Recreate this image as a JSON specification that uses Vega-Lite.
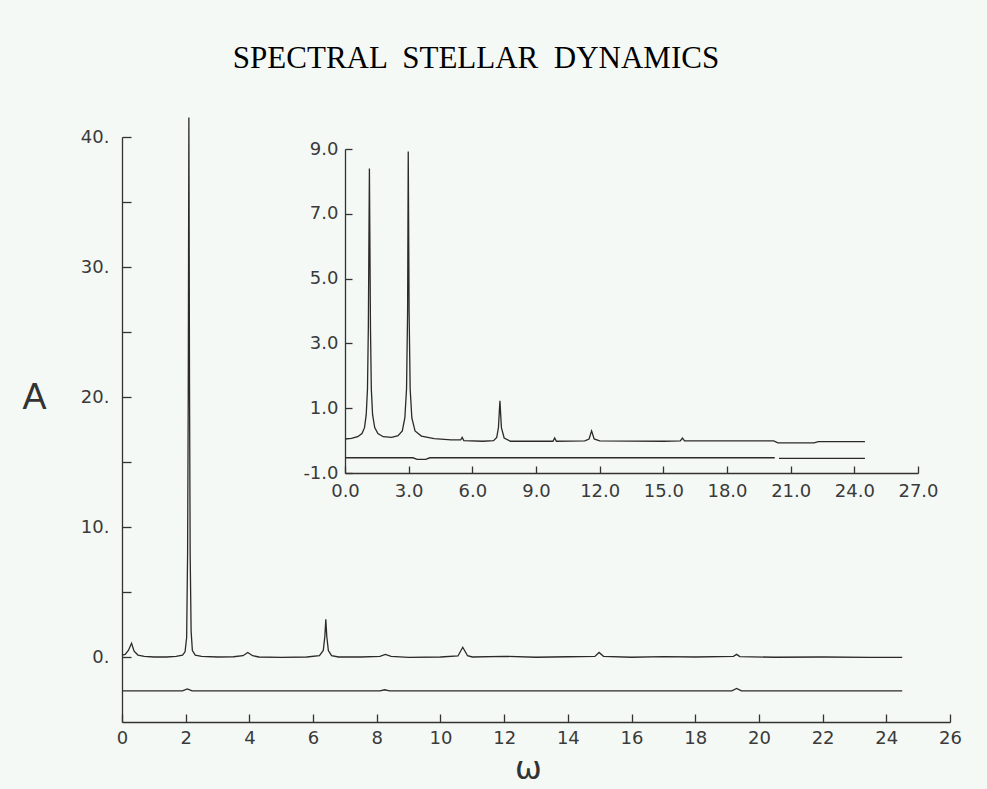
{
  "$schema": "https://vega.github.io/schema/vega-lite/v6.json",
  "autosize": {"type": "none"},
  "padding": {"left": 122, "top": 137, "right": 37, "bottom": 67},
  "width": 828,
  "height": 585,
  "background": "#f5f9f6",
  "title": {
    "text": "SPECTRAL \u00a0STELLAR \u00a0DYNAMICS",
    "font": "Liberation Serif",
    "fontSize": 31,
    "fontWeight": "normal",
    "color": "#000000",
    "anchor": "middle",
    "dx": -60,
    "offset": 40
  },
  "config": {
    "view": {"stroke": null},
    "axis": {
      "grid": false,
      "labelFont": "DejaVu Sans",
      "labelFontSize": 18,
      "labelColor": "#3a3a3a",
      "domainColor": "#333333",
      "tickColor": "#333333",
      "domainWidth": 1.3,
      "tickWidth": 1.3,
      "labelFlush": false,
      "labelOverlap": false
    }
  },
  "resolve": {
    "scale": {"x": "independent", "y": "independent"},
    "axis": {"x": "independent", "y": "independent"}
  },
  "layer": [
    {
      "data": {
        "values": [
          {"trace": "spectrum", "w": 0.0, "A": 0.15},
          {"trace": "spectrum", "w": 0.1, "A": 0.2},
          {"trace": "spectrum", "w": 0.2, "A": 0.5},
          {"trace": "spectrum", "w": 0.3, "A": 1.05},
          {"trace": "spectrum", "w": 0.38, "A": 0.45},
          {"trace": "spectrum", "w": 0.5, "A": 0.15},
          {"trace": "spectrum", "w": 0.7, "A": 0.05},
          {"trace": "spectrum", "w": 1.0, "A": 0.0},
          {"trace": "spectrum", "w": 1.4, "A": 0.0},
          {"trace": "spectrum", "w": 1.7, "A": 0.05},
          {"trace": "spectrum", "w": 1.9, "A": 0.15},
          {"trace": "spectrum", "w": 1.98, "A": 0.4},
          {"trace": "spectrum", "w": 2.03, "A": 1.5},
          {"trace": "spectrum", "w": 2.06, "A": 8},
          {"trace": "spectrum", "w": 2.08, "A": 20},
          {"trace": "spectrum", "w": 2.1, "A": 41.5},
          {"trace": "spectrum", "w": 2.12, "A": 21},
          {"trace": "spectrum", "w": 2.14, "A": 8},
          {"trace": "spectrum", "w": 2.17, "A": 2},
          {"trace": "spectrum", "w": 2.21, "A": 0.5},
          {"trace": "spectrum", "w": 2.3, "A": 0.15},
          {"trace": "spectrum", "w": 2.5, "A": 0.05},
          {"trace": "spectrum", "w": 3.0, "A": 0.0},
          {"trace": "spectrum", "w": 3.5, "A": 0.02},
          {"trace": "spectrum", "w": 3.8, "A": 0.1},
          {"trace": "spectrum", "w": 3.95, "A": 0.35},
          {"trace": "spectrum", "w": 4.1, "A": 0.1},
          {"trace": "spectrum", "w": 4.3, "A": 0.0},
          {"trace": "spectrum", "w": 5.0, "A": -0.03},
          {"trace": "spectrum", "w": 5.8, "A": 0.0},
          {"trace": "spectrum", "w": 6.2, "A": 0.1},
          {"trace": "spectrum", "w": 6.32, "A": 0.5},
          {"trace": "spectrum", "w": 6.37, "A": 1.6},
          {"trace": "spectrum", "w": 6.4, "A": 2.9},
          {"trace": "spectrum", "w": 6.43, "A": 1.6},
          {"trace": "spectrum", "w": 6.48, "A": 0.5},
          {"trace": "spectrum", "w": 6.58, "A": 0.1},
          {"trace": "spectrum", "w": 6.8, "A": 0.0},
          {"trace": "spectrum", "w": 7.5, "A": 0.0},
          {"trace": "spectrum", "w": 8.1, "A": 0.05},
          {"trace": "spectrum", "w": 8.27, "A": 0.2},
          {"trace": "spectrum", "w": 8.45, "A": 0.05},
          {"trace": "spectrum", "w": 9.0, "A": -0.03},
          {"trace": "spectrum", "w": 10.0, "A": 0.0},
          {"trace": "spectrum", "w": 10.55, "A": 0.08},
          {"trace": "spectrum", "w": 10.7, "A": 0.75},
          {"trace": "spectrum", "w": 10.85, "A": 0.1},
          {"trace": "spectrum", "w": 11.0, "A": 0.0},
          {"trace": "spectrum", "w": 12.0, "A": 0.05},
          {"trace": "spectrum", "w": 13.0, "A": -0.02},
          {"trace": "spectrum", "w": 14.0, "A": 0.02},
          {"trace": "spectrum", "w": 14.85, "A": 0.05},
          {"trace": "spectrum", "w": 14.98, "A": 0.35},
          {"trace": "spectrum", "w": 15.12, "A": 0.05},
          {"trace": "spectrum", "w": 16.0, "A": -0.02},
          {"trace": "spectrum", "w": 17.0, "A": 0.03},
          {"trace": "spectrum", "w": 18.0, "A": 0.0},
          {"trace": "spectrum", "w": 19.2, "A": 0.05},
          {"trace": "spectrum", "w": 19.3, "A": 0.2},
          {"trace": "spectrum", "w": 19.4, "A": 0.03},
          {"trace": "spectrum", "w": 20.5, "A": -0.02},
          {"trace": "spectrum", "w": 22.0, "A": 0.0},
          {"trace": "spectrum", "w": 23.5, "A": -0.03},
          {"trace": "spectrum", "w": 24.5, "A": -0.03},
          {"trace": "residual", "w": 0.0, "A": -2.6},
          {"trace": "residual", "w": 1.9, "A": -2.6},
          {"trace": "residual", "w": 2.05, "A": -2.45},
          {"trace": "residual", "w": 2.2, "A": -2.6},
          {"trace": "residual", "w": 8.1, "A": -2.6},
          {"trace": "residual", "w": 8.25, "A": -2.52},
          {"trace": "residual", "w": 8.4, "A": -2.6},
          {"trace": "residual", "w": 19.15, "A": -2.6},
          {"trace": "residual", "w": 19.3, "A": -2.42},
          {"trace": "residual", "w": 19.45, "A": -2.6},
          {"trace": "residual", "w": 24.5, "A": -2.6}
        ]
      },
      "mark": {"type": "line", "color": "#2a2a2a", "strokeWidth": 1.3},
      "encoding": {
        "x": {
          "field": "w",
          "type": "quantitative",
          "scale": {"domain": [0, 26], "nice": false, "zero": false},
          "axis": {
            "orient": "bottom",
            "values": [0, 2, 4, 6, 8, 10, 12, 14, 16, 18, 20, 22, 24, 26],
            "format": "d",
            "tickSize": -8,
            "labelPadding": 15,
            "title": "ω",
            "titleFont": "DejaVu Sans",
            "titleFontSize": 32,
            "titleFontWeight": "normal",
            "titleColor": "#333333",
            "titleAngle": 0,
            "titleAlign": "center",
            "titleBaseline": "middle",
            "titleX": 406,
            "titleY": 46
          }
        },
        "y": {
          "field": "A",
          "type": "quantitative",
          "scale": {"domain": [-5, 40], "nice": false, "zero": false},
          "axis": {
            "orient": "left",
            "values": [0, 5, 10, 15, 20, 25, 30, 35, 40],
            "labelExpr": "datum.value % 10 === 0 ? datum.value + '.' : ''",
            "tickSize": -9,
            "labelPadding": 22,
            "title": "A",
            "titleFont": "Liberation Sans",
            "titleFontSize": 36,
            "titleFontWeight": "normal",
            "titleColor": "#333333",
            "titleAngle": 0,
            "titleAlign": "center",
            "titleBaseline": "middle",
            "titleX": -88,
            "titleY": 260
          }
        },
        "detail": {"field": "trace"}
      }
    },
    {
      "data": {
        "values": [
          {"trace": "spectrum", "w": 0.0, "A": 0.05},
          {"trace": "spectrum", "w": 0.3, "A": 0.07},
          {"trace": "spectrum", "w": 0.6, "A": 0.12},
          {"trace": "spectrum", "w": 0.8, "A": 0.22},
          {"trace": "spectrum", "w": 0.92, "A": 0.4},
          {"trace": "spectrum", "w": 1.0, "A": 0.8},
          {"trace": "spectrum", "w": 1.06, "A": 1.6},
          {"trace": "spectrum", "w": 1.1, "A": 3.5},
          {"trace": "spectrum", "w": 1.15, "A": 8.4},
          {"trace": "spectrum", "w": 1.2, "A": 3.5},
          {"trace": "spectrum", "w": 1.24, "A": 1.6},
          {"trace": "spectrum", "w": 1.3, "A": 0.8},
          {"trace": "spectrum", "w": 1.4, "A": 0.4},
          {"trace": "spectrum", "w": 1.55, "A": 0.22},
          {"trace": "spectrum", "w": 1.8, "A": 0.12},
          {"trace": "spectrum", "w": 2.2, "A": 0.1},
          {"trace": "spectrum", "w": 2.5, "A": 0.15},
          {"trace": "spectrum", "w": 2.7, "A": 0.3},
          {"trace": "spectrum", "w": 2.82, "A": 0.7},
          {"trace": "spectrum", "w": 2.9, "A": 1.6},
          {"trace": "spectrum", "w": 2.95, "A": 4.0},
          {"trace": "spectrum", "w": 2.98, "A": 8.92},
          {"trace": "spectrum", "w": 3.02, "A": 4.0},
          {"trace": "spectrum", "w": 3.07, "A": 1.6},
          {"trace": "spectrum", "w": 3.15, "A": 0.7},
          {"trace": "spectrum", "w": 3.3, "A": 0.3},
          {"trace": "spectrum", "w": 3.6, "A": 0.14},
          {"trace": "spectrum", "w": 4.2, "A": 0.06},
          {"trace": "spectrum", "w": 5.0, "A": 0.02},
          {"trace": "spectrum", "w": 5.45, "A": 0.02},
          {"trace": "spectrum", "w": 5.52, "A": 0.1},
          {"trace": "spectrum", "w": 5.6, "A": 0.0},
          {"trace": "spectrum", "w": 6.5, "A": -0.02},
          {"trace": "spectrum", "w": 7.0, "A": 0.0},
          {"trace": "spectrum", "w": 7.15, "A": 0.1},
          {"trace": "spectrum", "w": 7.23, "A": 0.4},
          {"trace": "spectrum", "w": 7.3, "A": 1.23},
          {"trace": "spectrum", "w": 7.37, "A": 0.4},
          {"trace": "spectrum", "w": 7.5, "A": 0.08},
          {"trace": "spectrum", "w": 7.8, "A": -0.02},
          {"trace": "spectrum", "w": 9.8, "A": -0.02},
          {"trace": "spectrum", "w": 9.88, "A": 0.08},
          {"trace": "spectrum", "w": 9.96, "A": -0.02},
          {"trace": "spectrum", "w": 11.3, "A": -0.01},
          {"trace": "spectrum", "w": 11.5, "A": 0.05},
          {"trace": "spectrum", "w": 11.62, "A": 0.3},
          {"trace": "spectrum", "w": 11.74, "A": 0.05},
          {"trace": "spectrum", "w": 12.0, "A": -0.01},
          {"trace": "spectrum", "w": 15.0, "A": -0.02},
          {"trace": "spectrum", "w": 15.8, "A": -0.01},
          {"trace": "spectrum", "w": 15.9, "A": 0.08},
          {"trace": "spectrum", "w": 16.0, "A": -0.01},
          {"trace": "spectrum", "w": 20.2, "A": -0.01},
          {"trace": "spectrum", "w": 20.4, "A": -0.07},
          {"trace": "spectrum", "w": 22.1, "A": -0.07},
          {"trace": "spectrum", "w": 22.3, "A": -0.03},
          {"trace": "spectrum", "w": 24.5, "A": -0.03},
          {"trace": "residual-a", "w": 0.0, "A": -0.53},
          {"trace": "residual-a", "w": 3.2, "A": -0.53},
          {"trace": "residual-a", "w": 3.4, "A": -0.58},
          {"trace": "residual-a", "w": 3.8, "A": -0.58},
          {"trace": "residual-a", "w": 4.0, "A": -0.53},
          {"trace": "residual-a", "w": 20.25, "A": -0.53},
          {"trace": "residual-b", "w": 20.45, "A": -0.55},
          {"trace": "residual-b", "w": 24.5, "A": -0.55}
        ]
      },
      "mark": {"type": "line", "color": "#2a2a2a", "strokeWidth": 1.3},
      "encoding": {
        "x": {
          "field": "w",
          "type": "quantitative",
          "scale": {"domain": [0, 27], "nice": false, "zero": false, "range": [223, 796]},
          "axis": {
            "orient": "bottom",
            "offset": -249,
            "values": [0, 3, 6, 9, 12, 15, 18, 21, 24, 27],
            "format": ".1f",
            "tickSize": -7,
            "labelPadding": 16,
            "title": null
          }
        },
        "y": {
          "field": "A",
          "type": "quantitative",
          "scale": {"domain": [-1, 9], "nice": false, "zero": false, "range": [336, 12]},
          "axis": {
            "orient": "left",
            "offset": -223,
            "values": [-1, 1, 3, 5, 7, 9],
            "labelExpr": "replace(format(datum.value, '.1f'), '\u2212', '-')",
            "tickSize": -7,
            "labelPadding": 14,
            "title": null
          }
        },
        "detail": {"field": "trace"}
      }
    }
  ]
}
